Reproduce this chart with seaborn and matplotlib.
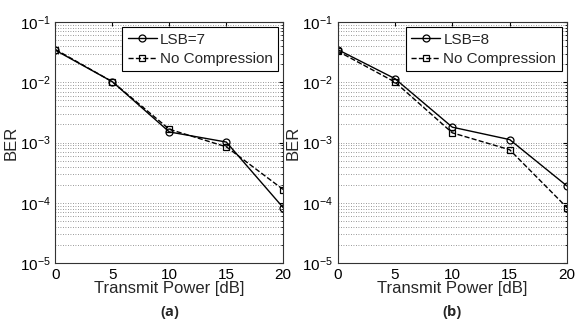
import matplotlib
matplotlib.use('Agg')
import numpy as np
import pandas as pd
import matplotlib.pyplot as plt
import seaborn as sns
from matplotlib.ticker import LogLocator, NullFormatter

# Data
power = [0, 5, 10, 15, 20]
ber_lsb7 = [0.034, 0.0102, 0.0015, 0.00102, 8.3e-5]
ber_nocomp_a = [0.035, 0.0102, 0.00166, 0.00085, 1.66e-4]
ber_lsb8 = [0.035, 0.0115, 0.0018, 0.00112, 1.9e-4]
ber_nocomp_b = [0.033, 0.0101, 0.00145, 0.00076, 8.3e-5]

panels = [
    ('LSB=7', ber_lsb7, ber_nocomp_a, '(a)'),
    ('LSB=8', ber_lsb8, ber_nocomp_b, '(b)'),
]

sns.set_style('white')
plt.rcParams['font.family'] = ['Liberation Sans', 'DejaVu Sans']
plt.rcParams['mathtext.fontset'] = 'custom'
plt.rcParams['mathtext.rm'] = 'Liberation Sans'

fig = plt.figure(figsize=(5.84, 3.24), dpi=100)
axes_pos = [[0.095, 0.188, 0.39, 0.744], [0.578, 0.188, 0.393, 0.744]]

for pos, (lsb_label, lsb, nocomp, tag) in zip(axes_pos, panels):
    ax = fig.add_axes(pos)
    df = pd.DataFrame({'power': power, 'lsb': lsb, 'nocomp': nocomp})
    sns.lineplot(data=df, x='power', y='lsb', ax=ax, color='black', lw=1.0,
                 marker='o', markersize=5, markerfacecolor='none',
                 markeredgecolor='black', markeredgewidth=0.9, label=lsb_label)
    sns.lineplot(data=df, x='power', y='nocomp', ax=ax, color='black', lw=1.0,
                 linestyle='--', dashes=(6, 3.5), marker='s', markersize=5,
                 markerfacecolor='none', markeredgecolor='black',
                 markeredgewidth=0.9, label='No Compression')
    ax.set_yscale('log')
    ax.set_ylim(1e-5, 1e-1)
    ax.set_xlim(0, 20)
    ax.set_xticks([0, 5, 10, 15, 20])
    ax.yaxis.set_major_locator(LogLocator(base=10, numticks=10))
    ax.yaxis.set_minor_locator(LogLocator(base=10, subs=np.arange(2, 10), numticks=10))
    ax.yaxis.set_minor_formatter(NullFormatter())
    ax.grid(True, axis='y', which='both', linestyle=(0, (1, 2)), color='#777777', lw=0.6)
    ax.tick_params(axis='both', which='both', direction='in', top=True, right=True,
                   labelsize=11, colors='black', length=3)
    ax.tick_params(axis='y', which='minor', length=1.8)
    for sp in ax.spines.values():
        sp.set_color('#333333')
        sp.set_linewidth(0.8)
    ax.set_xlabel('Transmit Power [dB]', fontsize=12, labelpad=-1)
    ax.set_ylabel('BER', fontsize=12, labelpad=1)
    leg = ax.legend(loc='upper right', fontsize=11, frameon=True, fancybox=False,
                    edgecolor='black', handlelength=1.9, handletextpad=0.2,
                    borderpad=0.35, labelspacing=0.35, borderaxespad=0.35)
    leg.get_frame().set_linewidth(0.8)
    leg.get_frame().set_alpha(1)
    fig.text(pos[0] + pos[2] / 2, 0.037, tag, ha='center', va='center',
             fontsize=10.5, fontweight='bold', family=['Open Sans', 'DejaVu Sans'])

fig.savefig('out.png', dpi=100)
